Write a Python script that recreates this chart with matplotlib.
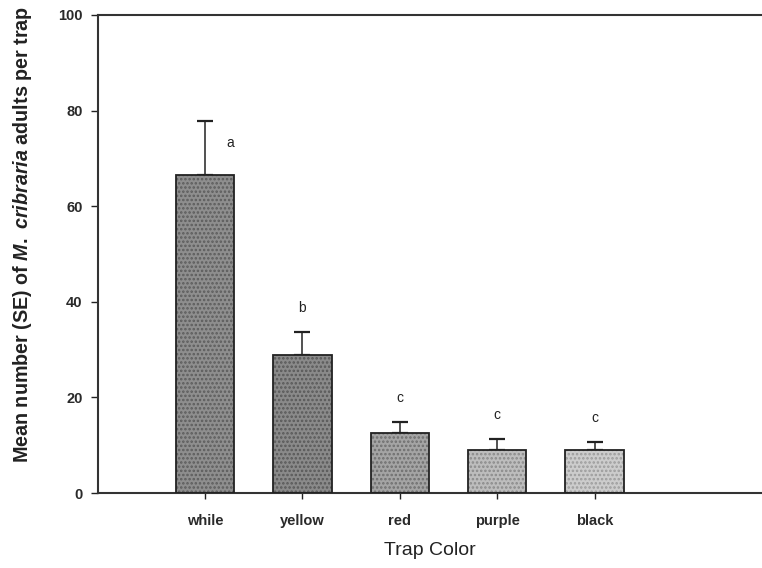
import matplotlib

matplotlib.use("Agg")
import matplotlib.pyplot as plt

# ---- data -----------------------------------------------------------------
trap_colors = ["while", "yellow", "red", "purple", "black"]
mean_counts = [66.5, 28.9, 12.5, 9.0, 9.0]
se_counts = [11.3, 4.8, 2.4, 2.3, 1.7]
group_letters = ["a", "b", "c", "c", "c"]
bar_grays = ["#8e8e8e", "#8a8a8a", "#a4a4a4", "#bdbdbd", "#cccccc"]
dot_grays = ["#5c5c5c", "#585858", "#6e6e6e", "#8a8a8a", "#9c9c9c"]

plt.rcParams.update({
    "font.family": "Liberation Sans",
    "mathtext.fontset": "custom",
    "mathtext.it": "Liberation Sans:italic:bold",
    "mathtext.rm": "Liberation Sans:bold",
    "hatch.linewidth": 1.2,
})

fig = plt.figure(figsize=(7.62, 5.68), dpi=100)
ax = fig.add_axes([0.1286, 0.132, 0.8714, 0.8416])

x = list(range(len(trap_colors)))
# stippled fill: gray face with a dense dot hatch, then a crisp outline
ax.bar(x, mean_counts, width=0.6, color=bar_grays, edgecolor=dot_grays,
       hatch="....", linewidth=0, zorder=2)
ax.bar(x, mean_counts, width=0.6, fill=False, edgecolor="#222222",
       linewidth=1.3, zorder=3)
ax.errorbar(x, mean_counts, yerr=[[0] * len(x), se_counts], fmt="none",
            ecolor="#222222", elinewidth=1.1, capsize=6, capthick=1.6, zorder=1)

for i, (m, s, lab) in enumerate(zip(mean_counts, se_counts, group_letters)):
    if i == 0:
        ax.text(i + 0.26, m + s - 4.5, lab, ha="center", va="center",
                fontsize=10, color="#222222")
    else:
        ax.text(i, m + s + 5.0, lab, ha="center", va="center",
                fontsize=10, color="#222222")

ax.set_xlim(-1.1, 5.72)
ax.set_ylim(0, 100)
ax.set_yticks([0, 20, 40, 60, 80, 100])
ax.set_xticks(x)
ax.set_xticklabels(trap_colors)
ax.tick_params(axis="both", direction="out", colors="#222222", labelsize=10.5,
               width=1.0)
ax.tick_params(axis="y", length=5, pad=6)
ax.tick_params(axis="x", length=4, pad=11)
for lbl in ax.get_yticklabels() + ax.get_xticklabels():
    lbl.set_fontweight("bold")
    lbl.set_color("#2a2a2a")

ax.spines["right"].set_visible(False)
for side in ("left", "top", "bottom"):
    ax.spines[side].set_color("#333333")
    ax.spines[side].set_linewidth(1.5)

ax.set_xlabel("Trap Color", fontsize=14, color="#222222", labelpad=10)
ax.set_ylabel(r"Mean number (SE) of $\it{M.\ cribraria}$ adults per trap",
              fontsize=14.2, fontweight="bold", color="#222222")
ax.yaxis.set_label_coords(-0.097, 0.54)

fig.savefig("out.png", dpi=100)
